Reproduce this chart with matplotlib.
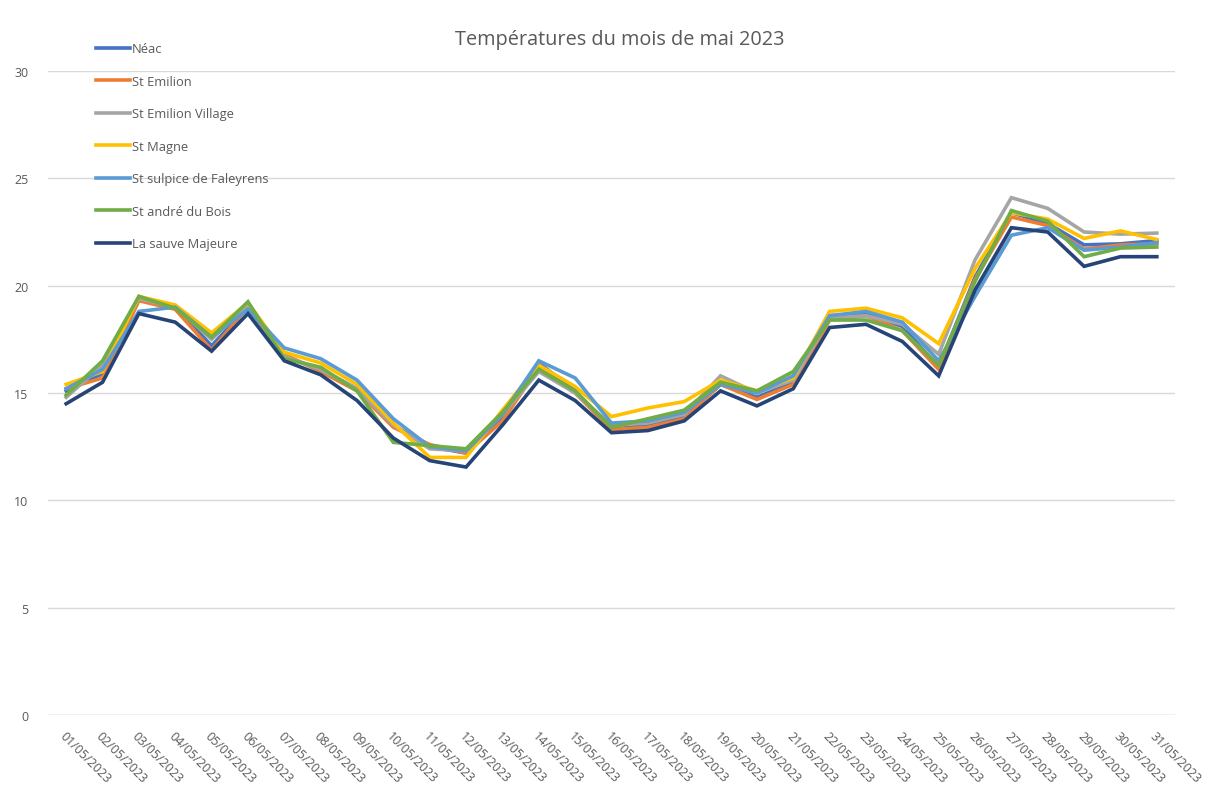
import matplotlib.pyplot as plt

# Données : températures du mois de mai 2023
dates = ['%02d/05/2023' % d for d in range(1, 32)]

neac = [15.1, 15.9, 19.4, 19.0, 17.2, 19.0, 16.7, 16.1, 15.2, 13.5, 12.5, 12.2, 13.9, 16.4, 15.1, 13.3,
        13.5, 13.9, 15.4, 14.8, 15.5, 18.6, 18.7, 18.1, 16.2, 20.4, 23.4, 22.9, 21.9, 21.95, 22.1]
st_emilion = [15.2, 15.7, 19.3, 18.9, 17.0, 19.0, 16.8, 16.0, 15.1, 13.4, 12.6, 12.2, 13.7, 16.2, 15.0, 13.3,
              13.4, 13.8, 15.4, 14.7, 15.4, 18.4, 18.6, 17.9, 16.1, 20.3, 23.2, 22.8, 21.7, 21.9, 21.95]
st_emilion_village = [14.8, 16.3, 19.4, 19.0, 17.5, 19.1, 16.7, 16.1, 15.2, 13.5, 12.4, 12.3, 14.0, 16.0, 15.0, 13.5,
                      13.6, 14.0, 15.8, 15.0, 15.6, 18.5, 18.6, 18.2, 16.8, 21.2, 24.1, 23.6, 22.5, 22.4, 22.45]
st_magne = [15.4, 16.0, 19.5, 19.1, 17.8, 19.2, 16.9, 16.4, 15.4, 13.6, 12.0, 12.0, 14.2, 16.3, 15.3, 13.9,
            14.3, 14.6, 15.6, 15.1, 15.7, 18.8, 18.95, 18.5, 17.3, 20.8, 23.4, 23.1, 22.2, 22.55, 22.15]
st_sulpice = [15.2, 16.1, 18.8, 19.0, 17.6, 18.9, 17.1, 16.6, 15.6, 13.8, 12.5, 12.3, 14.0, 16.5, 15.7, 13.6,
              13.7, 14.1, 15.4, 15.0, 15.8, 18.6, 18.8, 18.3, 16.5, 19.5, 22.35, 22.7, 21.65, 21.8, 22.0]
st_andre = [14.9, 16.5, 19.5, 18.95, 17.6, 19.25, 16.6, 16.2, 15.1, 12.7, 12.55, 12.4, 14.1, 16.1, 15.1, 13.4,
            13.8, 14.2, 15.5, 15.1, 16.0, 18.4, 18.4, 17.9, 16.3, 20.2, 23.5, 23.0, 21.35, 21.75, 21.8]
la_sauve = [14.5, 15.5, 18.7, 18.3, 16.95, 18.7, 16.5, 15.85, 14.65, 12.9, 11.85, 11.55, 13.5, 15.6, 14.65, 13.15,
            13.25, 13.7, 15.1, 14.4, 15.2, 18.05, 18.2, 17.4, 15.8, 19.8, 22.7, 22.5, 20.9, 21.35, 21.35]

series = ['Néac', 'St Emilion', 'St Emilion Village', 'St Magne',
          'St sulpice de Faleyrens', 'St andré du Bois', 'La sauve Majeure']
valeurs = [neac, st_emilion, st_emilion_village, st_magne, st_sulpice, st_andre, la_sauve]
couleurs = ['#4472C4', '#ED7D31', '#A5A5A5', '#FFC000', '#5B9BD5', '#70AD47', '#264478']

plt.rcParams['font.family'] = ['Open Sans', 'DejaVu Sans']
gris = '#595959'

fig = plt.figure(figsize=(12.19, 8.03), dpi=100)
ax = fig.add_axes([48 / 1219, 1 - 716 / 803, (1175 - 48) / 1219, (716 - 72) / 803])

x = list(range(len(dates)))
for nom, v, c in zip(series, valeurs, couleurs):
    ax.plot(x, v, color=c, lw=2.6, label=nom, solid_joinstyle='miter')

ax.set_ylim(0, 30)
ax.set_xlim(-0.5, len(dates) - 0.5)
ax.set_yticks(range(0, 31, 5))
ax.set_xticks(x)
ax.set_xticklabels(dates, rotation=-45, ha='left', va='top', rotation_mode='anchor')
ax.tick_params(axis='both', length=0, colors=gris, labelsize=9)
ax.tick_params(axis='y', pad=14)
ax.tick_params(axis='x', pad=10)
ax.grid(axis='y', color='#D9D9D9', lw=1)
ax.set_axisbelow(True)
for s in ax.spines.values():
    s.set_visible(False)
ax.axhline(0, color='#D9D9D9', lw=1, zorder=0)

fig.text(620 / 1219, 1 - 40 / 803, 'Températures du mois de mai 2023',
         ha='center', va='center', fontsize=14.3, color=gris)

leg = fig.legend(loc='upper left', bbox_to_anchor=(91 / 1219, 1 - 38 / 803), frameon=False,
                 fontsize=9.3, labelspacing=1.51, handlelength=2.6, handletextpad=0.15,
                 labelcolor=gris, borderaxespad=0)

fig.savefig('out.png', dpi=100, facecolor='white')
